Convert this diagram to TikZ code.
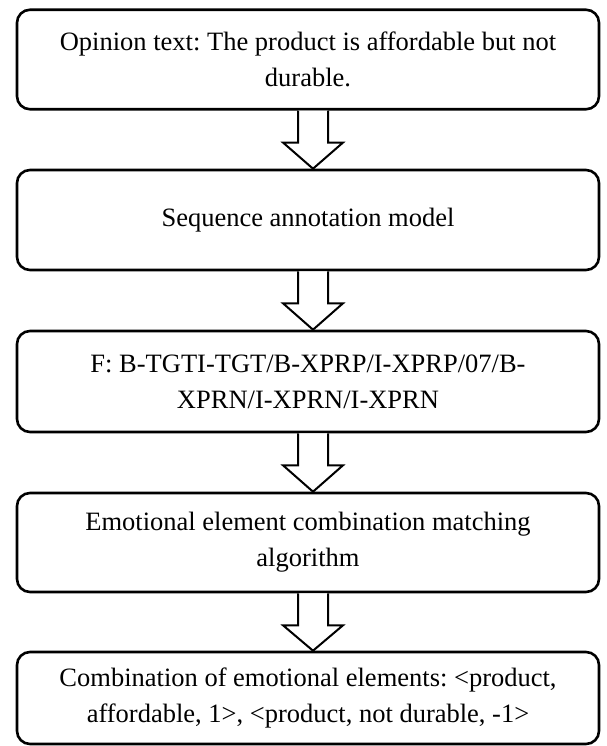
\documentclass[tikz,border=0pt]{standalone}
\usepackage{fontspec}
\setmainfont{Liberation Serif}
\usetikzlibrary{calc}
\frenchspacing
\tikzset{
  box/.style={draw, line width=2.6pt, rounded corners=13pt, minimum width=582pt,
    align=center, inner sep=0pt, font=\fontsize{26.5}{36}\selectfont},
  fatarrow/.style={draw, line width=2pt, fill=white, line join=miter}
}
\newcommand{\fatarr}[2]{%
  \draw[fatarrow] ($(#1.south)+(-10pt,0)$) -- ($(#1.south)+(-10pt,-32pt)$) --
    ($(#1.south)+(-25pt,-32pt)$) -- ($(#2.north)+(5pt,0)$) --
    ($(#1.south)+(35pt,-32pt)$) -- ($(#1.south)+(20pt,-32pt)$) --
    ($(#1.south)+(20pt,0)$);}
\begin{document}
\begin{tikzpicture}
\useasboundingbox (0,0) rectangle (606pt,-746pt);
\node[box, minimum height=99.5pt] (b1) at (308pt,-59.5pt)
  {Opinion text: The product is affordable but not\\ durable.};
\node[box, minimum height=100pt] (b2) at (308pt,-220pt)
  {Sequence annotation model};
\node[box, minimum height=101pt] (b3) at (308pt,-381.5pt)
  {F: B-TGTI-TGT/B-XPRP/I-XPRP/07/B-\\ XPRN/I-XPRN/I-XPRN};
\node[box, minimum height=99pt] (b4) at (308pt,-542.5pt)
  {Emotional element combination matching\\ algorithm};
\node[box, minimum height=92pt] (b5) at (308pt,-698pt)
  {Combination of emotional elements: <product,\\ affordable, 1>, <product, not durable, -1>};
\fatarr{b1}{b2}
\fatarr{b2}{b3}
\fatarr{b3}{b4}
\fatarr{b4}{b5}
\end{tikzpicture}
\end{document}
